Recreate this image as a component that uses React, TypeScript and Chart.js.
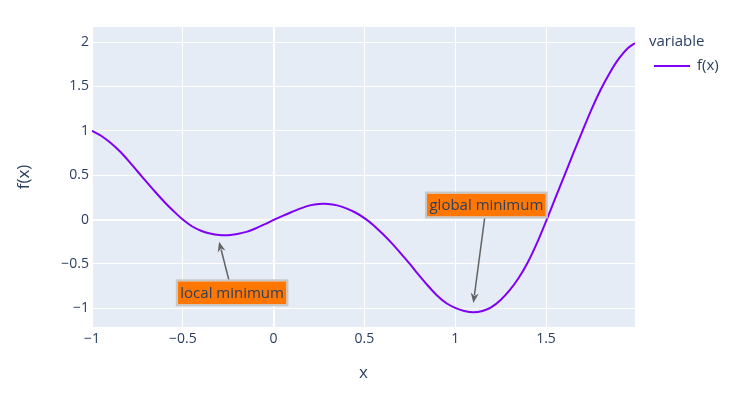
import React, { useEffect, useRef } from 'react';
import { Chart, registerables } from 'chart.js';

Chart.register(...registerables);

// ---- data ----
const xValues = [
  -1.0, -0.95, -0.9, -0.85, -0.8, -0.75, -0.7, -0.65, -0.6, -0.55,
  -0.5, -0.45, -0.4, -0.35, -0.3, -0.25, -0.2, -0.15, -0.1, -0.05,
  0.0, 0.05, 0.1, 0.15, 0.2, 0.25, 0.3, 0.35, 0.4, 0.45,
  0.5, 0.55, 0.6, 0.65, 0.7, 0.75, 0.8, 0.85, 0.9, 0.95,
  1.0, 1.05, 1.1, 1.15, 1.2, 1.25, 1.3, 1.35, 1.4, 1.45,
  1.5, 1.55, 1.6, 1.65, 1.7, 1.75, 1.8, 1.85, 1.9, 1.95, 1.99,
];
const fValues = [
  1.0, 0.945, 0.868, 0.775, 0.665, 0.545, 0.425, 0.308, 0.196, 0.094,
  0.0, -0.075, -0.125, -0.156, -0.174, -0.176, -0.162, -0.138, -0.1, -0.053,
  -0.004, 0.042, 0.086, 0.127, 0.16, 0.177, 0.177, 0.16, 0.127, 0.08,
  0.017, -0.063, -0.16, -0.265, -0.38, -0.5, -0.625, -0.745, -0.855, -0.94,
  -0.995, -1.03, -1.045, -1.03, -0.985, -0.905, -0.795, -0.655, -0.48, -0.265,
  -0.02, 0.235, 0.49, 0.745, 0.995, 1.24, 1.46, 1.65, 1.81, 1.93, 1.99,
];
const seriesName = 'f(x)';
const legendTitle = 'variable';
const xTitle = 'x';
const yTitle = 'f(x)';

// annotations: target point (data units), text and pixel offset of the label
const annX = [-0.3, 1.1];
const annY = [-0.25, -0.94];
const annText = ['local minimum', 'global minimum'];
const annAx = [13, 13];
const annAy = [51, -98];

const FONT = '"Open Sans", "Noto Sans", sans-serif';
const TEXT = '#2a3f5f';
const LINE = '#7f00f5';

const fmt = (v: number) => {
  const n = Number(v.toFixed(2));
  return n < 0 ? '\u2212' + String(Math.abs(n)) : String(n);
};

const extras = {
  id: 'extras',
  beforeDraw(chart: any) {
    const { ctx, chartArea: a } = chart;
    ctx.save();
    ctx.fillStyle = '#ffffff';
    ctx.fillRect(0, 0, chart.width, chart.height);
    ctx.fillStyle = '#E5ECF6';
    ctx.fillRect(a.left, a.top, a.right - a.left, a.bottom - a.top);
    ctx.restore();
  },
  afterDraw(chart: any) {
    const { ctx } = chart;
    const xs = chart.scales.x;
    const ys = chart.scales.y;
    ctx.save();
    // axis titles
    ctx.fillStyle = TEXT;
    ctx.font = `17px ${FONT}`;
    ctx.textAlign = 'center';
    ctx.textBaseline = 'middle';
    ctx.fillText(xTitle, (chart.chartArea.left + chart.chartArea.right) / 2, 373);
    ctx.save();
    ctx.translate(24, (chart.chartArea.top + chart.chartArea.bottom) / 2);
    ctx.rotate(-Math.PI / 2);
    ctx.fillText(yTitle, 0, 0);
    ctx.restore();

    // legend
    ctx.font = `15px ${FONT}`;
    ctx.textAlign = 'left';
    ctx.fillText(legendTitle, 649, 42);
    ctx.strokeStyle = LINE;
    ctx.lineWidth = 2;
    ctx.beginPath();
    ctx.moveTo(654, 66);
    ctx.lineTo(690, 66);
    ctx.stroke();
    ctx.fillText(seriesName, 697, 66);

    // annotations
    for (let i = 0; i < annX.length; i++) {
      const px = xs.getPixelForValue(annX[i]);
      const py = ys.getPixelForValue(annY[i]);
      const cx = px + annAx[i];
      const cy = py + annAy[i];
      ctx.font = `15px ${FONT}`;
      const tw = ctx.measureText(annText[i]).width;
      const w = tw + 5;
      const h = 23;
      const bx = cx - w / 2;
      const by = cy - h / 2;
      // arrow
      const dx = px - cx;
      const dy = py - cy;
      const tX = dx !== 0 ? (w / 2 + 1) / Math.abs(dx) : Infinity;
      const tY = dy !== 0 ? (h / 2 + 1) / Math.abs(dy) : Infinity;
      const t = Math.min(tX, tY);
      const sx = cx + dx * t;
      const sy = cy + dy * t;
      const len = Math.hypot(px - sx, py - sy);
      const ux = (px - sx) / len;
      const uy = (py - sy) / len;
      const headL = 10;
      const headW = 4;
      ctx.strokeStyle = '#636363';
      ctx.fillStyle = '#636363';
      ctx.lineWidth = 1.5;
      ctx.beginPath();
      ctx.moveTo(sx, sy);
      ctx.lineTo(px - ux * headL * 0.8, py - uy * headL * 0.8);
      ctx.stroke();
      ctx.beginPath();
      ctx.moveTo(px, py);
      ctx.lineTo(px - ux * headL - uy * headW, py - uy * headL + ux * headW);
      ctx.lineTo(px - ux * headL * 0.7, py - uy * headL * 0.7);
      ctx.lineTo(px - ux * headL + uy * headW, py - uy * headL - ux * headW);
      ctx.closePath();
      ctx.fill();
      // box
      ctx.fillStyle = '#ff7600';
      ctx.fillRect(bx, by, w, h);
      ctx.strokeStyle = '#c7c7c7';
      ctx.lineWidth = 2;
      ctx.strokeRect(bx - 1, by - 1, w + 2, h + 2);
      ctx.fillStyle = TEXT;
      ctx.textAlign = 'center';
      ctx.textBaseline = 'middle';
      ctx.fillText(annText[i], cx, cy + 1);
    }
    ctx.restore();
  },
};

export default function App() {
  const ref = useRef<HTMLCanvasElement | null>(null);
  useEffect(() => {
    if (!ref.current) return;
    const chart = new Chart(ref.current, {
      type: 'line',
      data: {
        datasets: [
          {
            label: seriesName,
            data: xValues.map((x, i) => ({ x, y: fValues[i] })),
            borderColor: LINE,
            borderWidth: 2,
            pointRadius: 0,
            fill: false,
            tension: 0.3,
          },
        ],
      },
      options: {
        animation: false,
        responsive: false,
        devicePixelRatio: 1,
        layout: { padding: { top: 27, right: 112, left: 0, bottom: 0 } },
        plugins: { legend: { display: false }, tooltip: { enabled: false } },
        scales: {
          x: {
            type: 'linear',
            min: -1,
            max: 1.99,
            border: { display: false },
            grid: {
              color: '#ffffff',
              drawTicks: false,
              lineWidth: (c: any) => (c.tick && c.tick.value === 0 ? 2 : 1),
            },
            ticks: {
              stepSize: 0.5,
              includeBounds: false,
              color: TEXT,
              font: { family: FONT, size: 14 },
              padding: 4,
              maxRotation: 0,
              callback: (v: any) => fmt(Number(v)),
            },
            afterFit: (s: any) => {
              s.height = 71;
            },
          },
          y: {
            type: 'linear',
            min: -1.21,
            max: 2.17,
            border: { display: false },
            grid: {
              color: '#ffffff',
              drawTicks: false,
              lineWidth: (c: any) => (c.tick && c.tick.value === 0 ? 2 : 1),
            },
            ticks: {
              stepSize: 0.5,
              includeBounds: false,
              color: TEXT,
              font: { family: FONT, size: 14 },
              padding: 3,
              callback: (v: any) => fmt(Number(v)),
            },
            afterFit: (s: any) => {
              s.width = 92;
            },
          },
        },
      },
      plugins: [extras],
    } as any);
    return () => chart.destroy();
  }, []);
  return (
    <div style={{ position: 'fixed', left: 0, top: 0, width: 747, height: 398, background: '#fff' }}>
      <canvas ref={ref} width={747} height={398} style={{ width: 747, height: 398, display: 'block' }} />
    </div>
  );
}
